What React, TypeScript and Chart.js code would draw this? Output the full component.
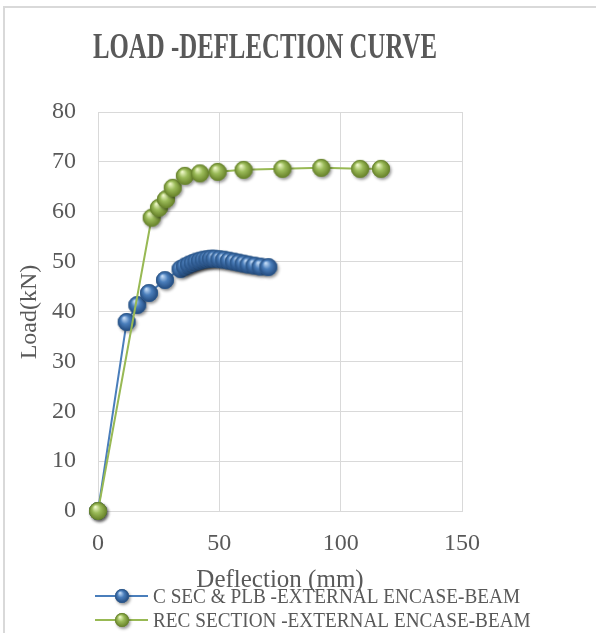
import React, { useEffect, useRef } from "react";
import { Chart, registerables } from "chart.js";

Chart.register(...registerables);

const TITLE = "LOAD -DEFLECTION CURVE";
const X_TITLE = "Deflection (mm)";
const Y_TITLE = "Load(kN)";
const SERIES_NAMES = ["C SEC & PLB -EXTERNAL ENCASE-BEAM", "REC SECTION -EXTERNAL ENCASE-BEAM"];
const X_TICKS = [0, 50, 100, 150];
const Y_TICKS = [0, 10, 20, 30, 40, 50, 60, 70, 80];

const cSecDeflection = [0, 11.8, 16.2, 21, 27.6, 34, 35.8, 37.5, 39, 40.5, 42, 43.5, 45, 46.5, 48, 50, 52, 54, 56, 58, 60, 62, 64.5, 67, 70.2];
const cSecLoad = [0, 37.9, 41.3, 43.7, 46.3, 48.5, 49.0, 49.4, 49.7, 50.0, 50.2, 50.4, 50.5, 50.6, 50.6, 50.5, 50.4, 50.2, 50.0, 49.8, 49.6, 49.4, 49.2, 49.0, 48.9];

const recDeflection = [0, 22.1, 25.1, 28, 30.8, 35.8, 42, 49.3, 60, 76, 92, 108, 116.6];
const recLoad = [0, 58.8, 60.8, 62.5, 64.8, 67.2, 67.7, 68.0, 68.4, 68.6, 68.8, 68.6, 68.6];

const TEXT = "#595959";
const GRID = "#d9d9d9";
const BLUE = "#4a7ebb";
const GREEN = "#98b954";
const SERIF = '"Liberation Serif", "Times New Roman", serif';

function makeBall(r: number, base: string, light: string, dark: string, edge: string) {
  const pad = 5;
  const size = Math.ceil(2 * r + 2 * pad);
  const c = document.createElement("canvas");
  c.width = size;
  c.height = size;
  const ctx = c.getContext("2d")!;
  const cx = size / 2;
  const cy = size / 2;
  ctx.save();
  ctx.shadowColor = "rgba(0,0,0,0.4)";
  ctx.shadowBlur = 3;
  ctx.shadowOffsetX = 1.5;
  ctx.shadowOffsetY = 2;
  const g = ctx.createRadialGradient(cx - r * 0.3, cy - r * 0.45, r * 0.05, cx, cy, r);
  g.addColorStop(0, light);
  g.addColorStop(0.45, base);
  g.addColorStop(1, dark);
  ctx.fillStyle = g;
  ctx.beginPath();
  ctx.arc(cx, cy, r, 0, Math.PI * 2);
  ctx.fill();
  ctx.restore();
  ctx.strokeStyle = edge;
  ctx.lineWidth = 0.8;
  ctx.beginPath();
  ctx.arc(cx, cy, r - 0.4, 0, Math.PI * 2);
  ctx.stroke();
  return c;
}

export default function App() {
  const ref = useRef<HTMLCanvasElement | null>(null);

  useEffect(() => {
    const canvas = ref.current!;
    const blueBall = makeBall(9, "#4a7ebb", "#c4dcf7", "#22497c", "#2d5a8e");
    const greenBall = makeBall(9, "#9bbb59", "#eef8c8", "#657f27", "#6a8630");
    const blueSmall = makeBall(7, "#4a7ebb", "#c4dcf7", "#22497c", "#2d5a8e");
    const greenSmall = makeBall(7, "#9bbb59", "#eef8c8", "#657f27", "#6a8630");

    const decor = {
      id: "decor",
      beforeDraw(chart: any) {
        const ctx = chart.ctx;
        ctx.save();
        ctx.fillStyle = "#fff";
        ctx.fillRect(0, 0, chart.width, chart.height);
        ctx.strokeStyle = GRID;
        ctx.lineWidth = 2;
        ctx.strokeRect(4, 7, chart.width + 40, chart.height + 40);
        ctx.restore();
      },
      afterDraw(chart: any) {
        const ctx = chart.ctx;
        ctx.save();
        ctx.fillStyle = TEXT;
        // title
        ctx.font = `bold 35px ${SERIF}`;
        const tw = ctx.measureText(TITLE).width;
        ctx.save();
        ctx.translate(265, 58);
        ctx.scale(344 / tw, 1);
        ctx.textAlign = "center";
        ctx.textBaseline = "alphabetic";
        ctx.fillText(TITLE, 0, 0);
        ctx.restore();
        // x title
        ctx.font = `25px ${SERIF}`;
        ctx.textAlign = "center";
        ctx.textBaseline = "alphabetic";
        ctx.fillText(X_TITLE, 280, 587);
        // y title
        ctx.save();
        ctx.translate(36, 312);
        ctx.rotate(-Math.PI / 2);
        ctx.font = `24px ${SERIF}`;
        ctx.textAlign = "center";
        ctx.textBaseline = "alphabetic";
        ctx.fillText(Y_TITLE, 0, 0);
        ctx.restore();
        // legend
        ctx.font = `22px ${SERIF}`;
        const lw = ctx.measureText(SERIES_NAMES[0]).width;
        const sx = 367 / lw;
        const rows = [
          { y: 596, base: 603, color: BLUE, ball: blueSmall, name: SERIES_NAMES[0] },
          { y: 620, base: 627, color: GREEN, ball: greenSmall, name: SERIES_NAMES[1] },
        ];
        for (const r of rows) {
          ctx.strokeStyle = r.color;
          ctx.lineWidth = 2;
          ctx.beginPath();
          ctx.moveTo(95, r.y);
          ctx.lineTo(148, r.y);
          ctx.stroke();
          ctx.drawImage(r.ball, 122 - r.ball.width / 2, r.y - r.ball.height / 2);
          ctx.save();
          ctx.translate(153, r.base);
          ctx.scale(sx, 1);
          ctx.textAlign = "left";
          ctx.fillText(r.name, 0, 0);
          ctx.restore();
        }
        ctx.restore();
      },
    };

    const chart = new Chart(canvas, {
      type: "scatter",
      data: {
        datasets: [
          {
            label: SERIES_NAMES[0],
            data: cSecDeflection.map((x, i) => ({ x, y: cSecLoad[i] })),
            showLine: true,
            borderColor: BLUE,
            borderWidth: 2,
            pointStyle: blueBall as any,
            pointRadius: 9,
            clip: false as any,
            order: 2,
          },
          {
            label: SERIES_NAMES[1],
            data: recDeflection.map((x, i) => ({ x, y: recLoad[i] })),
            showLine: true,
            borderColor: GREEN,
            borderWidth: 2,
            pointStyle: greenBall as any,
            pointRadius: 9,
            clip: false as any,
            order: 1,
          },
        ],
      },
      options: {
        responsive: false,
        animation: false,
        devicePixelRatio: 1,
        layout: { padding: { top: 112, right: 134, left: 0, bottom: 0 } },
        plugins: {
          legend: { display: false },
          title: { display: false },
          tooltip: { enabled: false },
        },
        scales: {
          x: {
            type: "linear",
            min: X_TICKS[0],
            max: X_TICKS[X_TICKS.length - 1],
            afterFit: (s: any) => {
              s.height = 122;
            },
            ticks: {
              stepSize: X_TICKS[1] - X_TICKS[0],
              color: TEXT,
              font: { family: SERIF, size: 24 },
              padding: 18,
              maxRotation: 0,
            },
            grid: { color: GRID, lineWidth: 1, drawTicks: false },
            border: { color: GRID, width: 1 },
          },
          y: {
            type: "linear",
            min: Y_TICKS[0],
            max: Y_TICKS[Y_TICKS.length - 1],
            afterFit: (s: any) => {
              s.width = 98;
            },
            ticks: {
              stepSize: Y_TICKS[1] - Y_TICKS[0],
              color: TEXT,
              font: { family: SERIF, size: 24 },
              padding: 22,
            },
            grid: { color: GRID, lineWidth: 1, drawTicks: false },
            border: { color: GRID, width: 1 },
          },
        },
      },
      plugins: [decor],
    });
    return () => chart.destroy();
  }, []);

  return (
    <div style={{ position: "absolute", left: 0, top: 0, width: 596, height: 633 }}>
      <canvas ref={ref} width={596} height={633} style={{ display: "block" }} />
    </div>
  );
}
